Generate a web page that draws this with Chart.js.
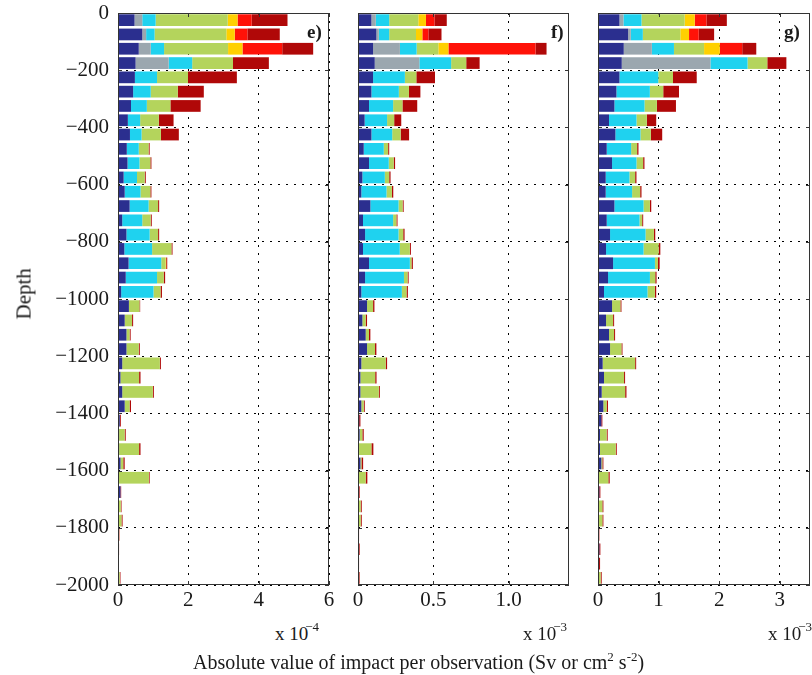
<!DOCTYPE html>
<html>
<head>
<meta charset="utf-8">
<script src="https://cdn.jsdelivr.net/npm/chart.js@4.4.1/dist/chart.umd.min.js"></script>
<style>
  body { margin: 0; background: #fff; }
  #wrap { position: relative; width: 812px; height: 675px; overflow: hidden; font-family: "Liberation Serif", "DejaVu Serif", serif; color: #1a1a1a; }
  canvas { position: absolute; top: 0; }
  .txt { position: absolute; white-space: nowrap; line-height: 1; }
  .mult { font-size: 19px; }
  .mult sup { font-size: 13px; position: relative; top: -2px; margin-left: -3px; }
  .panel { font-size: 19px; font-weight: bold; }
</style>
</head>
<body>
<div id="wrap">
  <canvas id="panelE" width="335" height="620" style="left:0"></canvas>
  <canvas id="panelF" width="235" height="620" style="left:340px"></canvas>
  <canvas id="panelG" width="232" height="620" style="left:580px"></canvas>

  <div class="txt panel" style="left:307px; top:22px">e)</div>
  <div class="txt panel" style="left:551px; top:22px">f)</div>
  <div class="txt panel" style="left:784px; top:22px">g)</div>

  <div class="txt mult" style="left:275px; top:622px">x 10<sup>&minus;4</sup></div>
  <div class="txt mult" style="left:523px; top:622px">x 10<sup>&minus;3</sup></div>
  <div class="txt mult" style="left:768px; top:622px">x 10<sup>&minus;3</sup></div>

  <div class="txt" style="left:0; top:284px; width:50px; font-size:21px; transform:translate(-1px,0) rotate(-90deg); text-align:center">Depth</div>
  <div class="txt" style="left:193px; top:650px; font-size:20px">Absolute value of impact per observation (Sv or cm<sup style="font-size:13px">2</sup> s<sup style="font-size:13px">-2</sup>)</div>
</div>

<script>
// depth of each 50 m bin (bin centres)
const depths = [
  -25, -75, -125, -175, -225, -275, -325, -375, -425, -475,
  -525, -575, -625, -675, -725, -775, -825, -875, -925, -975,
  -1025, -1075, -1125, -1175, -1225, -1275, -1325, -1375, -1425, -1475,
  -1525, -1575, -1625, -1675, -1725, -1775, -1825, -1875, -1925, -1975
];

const seriesColors = ['#2b2f8f', '#9ba7af', '#1fd2ef', '#b4d45c', '#ffd000', '#ff1208', '#b00808'];
const seriesNames = ['type 1', 'type 2', 'type 3', 'type 4', 'type 5', 'type 6', 'type 7'];

// panel e), units of 1e-4
const e_navy = [
  0.47, 0.69, 0.59, 0.50, 0.48, 0.43, 0.37, 0.28, 0.34, 0.25,
  0.27, 0.16, 0.19, 0.33, 0.12, 0.24, 0.18, 0.30, 0.22, 0.09,
  0.31, 0.19, 0.24, 0.24, 0.12, 0.07, 0.12, 0.19, 0.05, 0.03,
  0.03, 0.07, 0, 0.07, 0, 0, 0, 0, 0, 0
];
const e_gray = [
  0.22, 0.11, 0.34, 0.94, 0, 0, 0, 0, 0, 0,
  0, 0, 0, 0, 0, 0, 0, 0, 0, 0,
  0, 0, 0, 0, 0, 0, 0, 0, 0, 0,
  0, 0, 0, 0, 0, 0, 0, 0, 0, 0
];
const e_cyan = [
  0.38, 0.24, 0.38, 0.67, 0.63, 0.50, 0.45, 0.35, 0.33, 0.34,
  0.34, 0.38, 0.45, 0.54, 0.57, 0.66, 0.79, 0.93, 0.89, 0.92,
  0, 0, 0, 0, 0, 0, 0, 0, 0, 0,
  0, 0, 0, 0, 0, 0, 0, 0, 0, 0
];
const e_green = [
  2.05, 2.04, 1.82, 1.16, 0.88, 0.77, 0.67, 0.53, 0.55, 0.28,
  0.31, 0.22, 0.28, 0.27, 0.24, 0.24, 0.55, 0.12, 0.19, 0.20,
  0.30, 0.21, 0.09, 0.35, 1.07, 0.53, 0.87, 0.14, 0, 0.16,
  0.57, 0.08, 0.88, 0, 0.08, 0.10, 0.01, 0, 0, 0.05
];
const e_gold = [
  0.28, 0.24, 0.41, 0, 0, 0, 0, 0, 0, 0,
  0, 0, 0, 0, 0, 0, 0, 0.02, 0, 0,
  0, 0, 0, 0, 0, 0, 0, 0, 0, 0,
  0, 0, 0, 0, 0, 0, 0.02, 0, 0, 0
];
const e_red = [
  0.40, 0.36, 1.13, 0, 0, 0, 0, 0, 0, 0,
  0, 0, 0, 0, 0, 0, 0, 0, 0, 0,
  0, 0, 0, 0, 0, 0, 0, 0, 0, 0,
  0, 0, 0, 0, 0, 0, 0, 0, 0, 0
];
const e_darkred = [
  1.02, 0.92, 0.88, 1.02, 1.39, 0.74, 0.86, 0.42, 0.51, 0.03,
  0.03, 0.03, 0.03, 0.03, 0.03, 0.03, 0.03, 0.03, 0.04, 0.04,
  0.02, 0.03, 0.03, 0.03, 0.03, 0.04, 0.03, 0.04, 0.03, 0.03,
  0.04, 0.04, 0.02, 0.02, 0.02, 0.03, 0.01, 0.03, 0.02, 0.02
];

// panel f), units of 1e-3
const f_navy = [
  0.089, 0.122, 0.100, 0.111, 0.100, 0.089, 0.073, 0.044, 0.089, 0.038,
  0.073, 0.029, 0.022, 0.082, 0.033, 0.047, 0.033, 0.073, 0.047, 0.022,
  0.060, 0.029, 0.051, 0.060, 0.022, 0.016, 0.016, 0.022, 0.008, 0.011,
  0, 0.016, 0, 0.004, 0, 0, 0, 0.004, 0, 0
];
const f_gray = [
  0.029, 0.016, 0.178, 0.296, 0, 0, 0, 0, 0, 0,
  0, 0, 0, 0, 0, 0, 0, 0, 0, 0,
  0, 0, 0, 0, 0, 0, 0, 0, 0, 0,
  0, 0, 0, 0, 0, 0, 0, 0, 0, 0
];
const f_cyan = [
  0.089, 0.069, 0.111, 0.211, 0.211, 0.182, 0.160, 0.149, 0.138, 0.133,
  0.131, 0.149, 0.167, 0.187, 0.200, 0.222, 0.244, 0.271, 0.258, 0.269,
  0, 0, 0, 0, 0, 0, 0, 0, 0, 0,
  0, 0, 0, 0, 0, 0, 0, 0, 0, 0
];
const f_green = [
  0.193, 0.178, 0.144, 0.100, 0.076, 0.067, 0.062, 0.047, 0.056, 0.029,
  0.033, 0.029, 0.036, 0.027, 0.022, 0.031, 0.067, 0.011, 0.024, 0.031,
  0.040, 0.022, 0.022, 0.053, 0.162, 0.098, 0.122, 0.016, 0, 0.018,
  0.089, 0.007, 0.051, 0, 0.018, 0.018, 0, 0, 0, 0.007
];
const f_gold = [
  0.051, 0.042, 0.067, 0, 0, 0, 0, 0, 0, 0,
  0, 0, 0, 0, 0, 0, 0, 0, 0, 0,
  0, 0, 0, 0, 0, 0, 0, 0, 0, 0,
  0, 0, 0, 0, 0, 0, 0, 0, 0, 0
];
const f_red = [
  0.056, 0.040, 0.578, 0, 0, 0, 0, 0, 0, 0,
  0, 0, 0, 0, 0, 0, 0, 0, 0, 0,
  0, 0, 0, 0, 0, 0, 0, 0, 0, 0,
  0, 0, 0, 0, 0, 0, 0, 0, 0, 0
];
const f_darkred = [
  0.082, 0.087, 0.073, 0.089, 0.124, 0.076, 0.098, 0.047, 0.056, 0.007,
  0.009, 0.009, 0.009, 0.007, 0.007, 0.009, 0.007, 0.009, 0.007, 0.009,
  0.009, 0.009, 0.009, 0.009, 0.009, 0.009, 0.007, 0.007, 0.008, 0.009,
  0.013, 0.011, 0.011, 0.007, 0.007, 0.007, 0.007, 0.007, 0.007, 0.004
];

// panel g), units of 1e-3
const g_navy = [
  0.354, 0.497, 0.425, 0.392, 0.354, 0.304, 0.271, 0.182, 0.287, 0.144,
  0.232, 0.127, 0.127, 0.271, 0.144, 0.199, 0.133, 0.249, 0.166, 0.099,
  0.232, 0.133, 0.182, 0.199, 0.077, 0.099, 0.061, 0.088, 0.055, 0.033,
  0.033, 0.055, 0, 0.022, 0, 0, 0, 0.022, 0.017, 0
];
const g_gray = [
  0.066, 0.044, 0.464, 1.464, 0, 0, 0, 0, 0, 0,
  0, 0, 0, 0, 0, 0, 0, 0, 0, 0,
  0, 0, 0, 0, 0, 0, 0, 0, 0, 0,
  0, 0, 0, 0, 0, 0, 0, 0, 0, 0
];
const g_cyan = [
  0.298, 0.199, 0.365, 0.613, 0.641, 0.552, 0.497, 0.453, 0.414, 0.403,
  0.403, 0.392, 0.436, 0.481, 0.541, 0.586, 0.619, 0.691, 0.691, 0.718,
  0, 0, 0, 0, 0, 0, 0, 0, 0, 0,
  0, 0, 0, 0, 0, 0, 0, 0, 0, 0
];
const g_green = [
  0.713, 0.619, 0.497, 0.326, 0.243, 0.221, 0.204, 0.171, 0.171, 0.099,
  0.110, 0.094, 0.133, 0.105, 0.044, 0.138, 0.249, 0.050, 0.088, 0.122,
  0.138, 0.116, 0.083, 0.188, 0.536, 0.331, 0.387, 0.055, 0, 0.110,
  0.260, 0.017, 0.171, 0, 0.072, 0.072, 0, 0, 0, 0.044
];
const g_gold = [
  0.166, 0.144, 0.260, 0, 0, 0, 0, 0, 0, 0,
  0, 0, 0, 0, 0, 0, 0, 0, 0, 0,
  0, 0, 0, 0, 0, 0, 0, 0, 0, 0,
  0, 0, 0, 0, 0, 0, 0, 0, 0, 0
];
const g_red = [
  0.193, 0.160, 0.370, 0, 0, 0, 0, 0, 0, 0,
  0, 0, 0, 0, 0, 0, 0, 0, 0, 0,
  0, 0, 0, 0, 0, 0, 0, 0, 0, 0,
  0, 0, 0, 0, 0, 0, 0, 0, 0, 0
];
const g_darkred = [
  0.337, 0.254, 0.232, 0.315, 0.392, 0.260, 0.315, 0.155, 0.188, 0.022,
  0.022, 0.022, 0.022, 0.022, 0.017, 0.022, 0.028, 0.028, 0.022, 0.022,
  0.017, 0.017, 0.017, 0.017, 0.017, 0.017, 0.022, 0.022, 0.017, 0.017,
  0.017, 0.017, 0.022, 0.017, 0.017, 0.017, 0.022, 0.017, 0.017, 0.017
];

const tickFont = { family: '"Liberation Serif", "DejaVu Serif", serif', size: 21 };

// box round the plot area with short inward ticks, matlab style
const framePlugin = {
    id: 'frame',
    afterDraw(chart) {
        const { ctx, chartArea: a, scales } = chart;
        ctx.save();
        ctx.strokeStyle = '#333';
        ctx.lineWidth = 1;
        ctx.setLineDash([]);
        ctx.strokeRect(a.left + 0.5, a.top + 0.5, a.right - a.left - 1, a.bottom - a.top - 1);
        ctx.beginPath();
        scales.x.ticks.forEach(t => {
            const px = Math.round(scales.x.getPixelForValue(t.value)) + 0.5;
            ctx.moveTo(px, a.bottom); ctx.lineTo(px, a.bottom - 4);
            ctx.moveTo(px, a.top); ctx.lineTo(px, a.top + 4);
        });
        scales.y.ticks.forEach(t => {
            const py = Math.round(scales.y.getPixelForValue(t.value)) + 0.5;
            ctx.moveTo(a.left, py); ctx.lineTo(a.left + 4, py);
            ctx.moveTo(a.right, py); ctx.lineTo(a.right - 4, py);
        });
        ctx.stroke();
        ctx.restore();
    }
};

function makePanel(id, series, xMax, xStep, showDepth, yWidth, rightPad) {
    const canvas = document.getElementById(id);
    return new Chart(canvas, {
        type: 'bar',
        data: {
            datasets: series.map((vals, k) => ({
                label: seriesNames[k],
                data: depths.map((d, i) => ({ y: d, x: vals[i] })),
                backgroundColor: seriesColors[k],
                borderWidth: 0,
                barPercentage: 0.82,
                categoryPercentage: 1
            }))
        },
        options: {
            indexAxis: 'y',
            responsive: false,
            animation: false,
            layout: { padding: { top: 13, right: rightPad, left: 0, bottom: 0 } },
            plugins: {
                legend: { display: false },
                tooltip: { enabled: false }
            },
            scales: {
                x: {
                    type: 'linear',
                    stacked: true,
                    min: 0,
                    max: xMax,
                    ticks: {
                        stepSize: xStep,
                        includeBounds: false,
                        font: tickFont,
                        color: '#1a1a1a',
                        padding: 3,
                        maxRotation: 0
                    },
                    grid: { color: '#000', lineWidth: 1, drawTicks: false },
                    border: { display: false, dash: [2, 6] },
                    afterFit: s => { s.height = 35; s.paddingLeft = 0; s.paddingRight = 0; }
                },
                y: {
                    type: 'linear',
                    stacked: true,
                    offset: false,
                    min: -2000,
                    max: 0,
                    ticks: {
                        stepSize: 200,
                        display: showDepth,
                        font: tickFont,
                        color: '#1a1a1a',
                        padding: 9,
                        callback: v => v === 0 ? '0' : '\u2212' + Math.abs(v)
                    },
                    grid: { color: '#000', lineWidth: 1, drawTicks: false, offset: false },
                    border: { display: false, dash: [2, 6] },
                    afterFit: s => { s.width = yWidth; s.paddingTop = 0; s.paddingBottom = 0; }
                }
            }
        },
        plugins: [framePlugin]
    });
}

makePanel('panelE', [e_navy, e_gray, e_cyan, e_green, e_gold, e_red, e_darkred], 6, 2, true, 118, 6);
makePanel('panelF', [f_navy, f_gray, f_cyan, f_green, f_gold, f_red, f_darkred], 1.4, 0.5, false, 18, 6);
makePanel('panelG', [g_navy, g_gray, g_cyan, g_green, g_gold, g_red, g_darkred], 3.5, 1, false, 18, 2);
</script>
</body>
</html>
